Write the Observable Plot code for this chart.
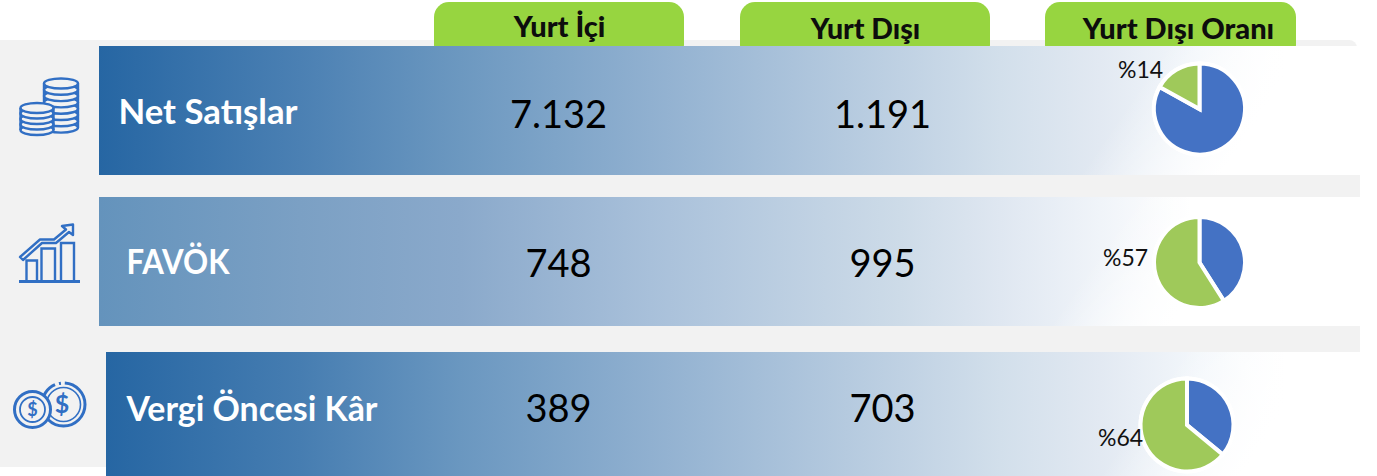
<!DOCTYPE html>
<html><head><meta charset="utf-8">
<script src="https://cdn.jsdelivr.net/npm/d3@7"></script>
<script src="https://cdn.jsdelivr.net/npm/@observablehq/plot@0.6"></script>
<style>html,body{margin:0;padding:0;background:#fff}svg{display:block}</style>
</head><body><div id="chart"></div>
<script>
// data
const categories = ["Net Satışlar", "FAVÖK", "Vergi Öncesi Kâr"];
const headers = ["Yurt İçi", "Yurt Dışı", "Yurt Dışı Oranı"];
const domestic = [7132, 748, 389];
const foreign = [1191, 995, 703];
const ratioLabels = ["%14", "%57", "%64"];
// slice shares as drawn in the picture's pies
const domesticShare = [83, 41, 36];
const foreignShare = [17, 59, 64];
const sliceColors = ["#4472c4", "#9fc95a"];

// layout (pixel positions of the slide)
const W = 1377, H = 476;
const bandBox = [[99, 1360, 46, 175], [99, 1360, 197, 326], [106, 1377, 352, 476]];
const tabBox = [[434, 684], [740, 990], [1045, 1296]];
const headerAt = [[559, 36, 29], [865, 38, 28.5], [1178, 38, 29]];
const nameAt = [[118, 123, 34.5, 179], [126, 273, 34, 103], [126, 420, 33.5, 251]];
const numY = [127, 276, 421];
const pieAt = [[1199.5, 109, 44], [1199.5, 262.5, 44], [1187, 425, 45]];
const ratioAt = [[1117.5, 77], [1102.5, 265], [1097.5, 445]];
const fmt = d3.format(",");
const tr = v => fmt(v).replace(/,/g, ".");

const gradStops = [
  [[99,"#2666a3"],[300,"#4b80b3"],[460,"#6c98c0"],[650,"#90b0d0"],[900,"#bfd1e3"],[1000,"#d2dfeb"],[1100,"#e2e9f2"],[1200,"#f3f7fb"],[1285,"#ffffff"]],
  [[99,"#6493bc"],[300,"#7ba0c4"],[460,"#8aa9cb"],[650,"#a8c0da"],[900,"#cddbe8"],[1000,"#dfe7f1"],[1100,"#f0f4f9"],[1190,"#ffffff"]],
  [[106,"#2666a3"],[300,"#467db1"],[460,"#6a97c0"],[650,"#90b0d0"],[900,"#bfd1e3"],[1000,"#d2dfeb"],[1100,"#e2e9f2"],[1200,"#f3f7fb"],[1285,"#ffffff"]]
];
const fadeLine = [[1080, 175, 1176, 240], [1050, 326, 1133, 382], [1100, 476, 1196, 541]];

const defs = () => {
  const g = d3.create("svg:g");
  const d = g.append("defs");
  gradStops.forEach((st, i) => {
    const lg = d.append("linearGradient").attr("id", "band" + i).attr("gradientUnits", "userSpaceOnUse")
      .attr("x1", 0).attr("x2", W).attr("y1", 0).attr("y2", 0);
    st.forEach(([x, c]) => lg.append("stop").attr("offset", x / W).attr("stop-color", c));
    const [a, b, c2, e] = fadeLine[i];
    const fg = d.append("linearGradient").attr("id", "fade" + i).attr("gradientUnits", "userSpaceOnUse")
      .attr("x1", a).attr("y1", b).attr("x2", c2).attr("y2", e);
    fg.append("stop").attr("offset", 0).attr("stop-color", "#fff").attr("stop-opacity", 0);
    fg.append("stop").attr("offset", 1).attr("stop-color", "#fff").attr("stop-opacity", 1);
  });
  return g.node();
};

const panel = Plot.rect([0], {x1: 0, x2: 1360, y1: 40, y2: 467, fill: "#f2f2f2"});
const panelCut = Plot.rect([0], {x1: 1350, x2: 1377, y1: 38, y2: 46, fill: "#ffffff"});
const panelCorner = Plot.rect([0], {x1: 1320, x2: 1357, y1: 40, y2: 70, fill: "#f2f2f2", rx: 8});

const tabs = Plot.rect(tabBox, {x1: d => d[0], x2: d => d[1], y1: () => 2, y2: () => 60, fill: "#97d540", rx: 15});
const bands = bandBox.map((b, i) => Plot.rect([b], {x1: d => d[0], x2: d => d[1], y1: d => d[2], y2: d => d[3], fill: `url(#band${i})`}));
const fades = bandBox.map((b, i) => Plot.rect([b], {x1: d => d[0], x2: d => d[1], y1: d => d[2], y2: d => d[3], fill: `url(#fade${i})`}));

const pies = (index, {x, y}) => {
  const g = d3.create("svg:g");
  categories.forEach((_, i) => {
    const [cx, cy, r] = pieAt[i];
    const row = g.append("g").attr("transform", `translate(${x(cx)},${y(cy)})`);
    const arcs = d3.pie().sort(null)([domesticShare[i], foreignShare[i]]);
    row.append("circle").attr("r", r + 3.5).attr("fill", "#fff");
    row.selectAll("path").data(arcs).join("path")
      .attr("d", d3.arc().innerRadius(0).outerRadius(r + 1.5))
      .attr("fill", (d, j) => sliceColors[j])
      .attr("stroke", "#fff").attr("stroke-width", 4).attr("stroke-linejoin", "miter");
  });
  return g.node();
};

const icons = () => {
  const c = "#316fc4";
  const g = d3.create("svg:g").attr("fill", "none").attr("stroke", c).attr("stroke-width", 2.4);
  // coin stacks
  const stack = (cx, top, n, rx, step) => {
    for (let k = n - 1; k >= 0; k--) {
      g.append("ellipse").attr("cx", cx).attr("cy", top + k * step).attr("rx", rx).attr("ry", 5).attr("fill", "#f2f2f2");
    }
    g.append("path").attr("d", `M${cx - rx},${top} V${top + (n - 1) * step} M${cx + rx},${top} V${top + (n - 1) * step}`);
  };
  stack(61, 83.5, 8, 17, 6.3);
  stack(37, 108, 5, 16.5, 5.5);
  // growth bars
  g.append("path").attr("d", "M26.5,280 V260.5 H37 V280 M41.5,280 V248.5 H55 V280 M61,280 V243 H74 V280");
  g.append("path").attr("stroke-width", 2.8).attr("d", "M19,281.5 H80");
  g.append("path").attr("stroke-linejoin", "round").attr("d", "M20,257 L40,239.5 H54 L66,229.5 L62,226 L73,224.5 L73,235 L69,232 L56,243 H42 L23,260 Z");
  // dollar coins
  g.append("circle").attr("cx", 63.5).attr("cy", 404.5).attr("r", 21.5).attr("stroke-width", 3).attr("stroke-dasharray", "92 4 2 4 33");
  g.append("circle").attr("cx", 63.5).attr("cy", 404.5).attr("r", 17).attr("stroke-width", 1.6);
  g.append("circle").attr("cx", 32.5).attr("cy", 409.5).attr("r", 18).attr("stroke-width", 3).attr("fill", "#f2f2f2");
  g.append("circle").attr("cx", 32.5).attr("cy", 409.5).attr("r", 12.5).attr("stroke-width", 1.8);
  g.append("text").attr("x", 62).attr("y", 413).attr("text-anchor", "middle").attr("font-family", "Lato").attr("font-weight", 700)
    .attr("font-size", 25).attr("fill", c).attr("stroke", "none").text("$");
  g.append("text").attr("x", 32.5).attr("y", 416).attr("text-anchor", "middle").attr("font-family", "Lato").attr("font-weight", 700)
    .attr("font-size", 18).attr("fill", c).attr("stroke", "none").text("$");
  return g.node();
};

const font = "Lato, sans-serif";
const headerText = headers.map((t, i) => Plot.text([t], {x: headerAt[i][0], y: headerAt[i][1], text: d => d,
  fontFamily: font, fontWeight: 900, fontSize: headerAt[i][2], fill: "#0d0d0d", lineAnchor: "bottom"}));
const nameText = categories.map((t, i) => Plot.text([t], {x: nameAt[i][0], y: nameAt[i][1], text: d => d,
  fontFamily: font, fontWeight: 700, fontSize: nameAt[i][2], fill: "#fff", textAnchor: "start", lineAnchor: "bottom"}));
const numCol = (vals, x) => Plot.text(vals, {x: () => x, y: (d, i) => numY[i], text: d => tr(d),
  fontFamily: font, fontSize: 38, fill: "#000", lineAnchor: "bottom"});
const ratioText = Plot.text(ratioLabels, {x: (d, i) => ratioAt[i][0], y: (d, i) => ratioAt[i][1], text: d => d,
  fontFamily: font, fontSize: 23, fill: "#111", textAnchor: "start", lineAnchor: "bottom"});

const chart = Plot.plot({
  width: W, height: H, margin: 0,
  x: {type: "linear", domain: [0, W], range: [0, W], axis: null},
  y: {type: "linear", domain: [0, H], range: [0, H], axis: null},
  style: {background: "#fff"},
  marks: [defs, panel, panelCut, panelCorner, tabs, ...bands, ...fades, icons, pies, ...headerText, ...nameText,
    numCol(domestic, 558), numCol(foreign, 882), ratioText]
});
document.getElementById("chart").append(chart);
// Calibri-like narrow setting of the row names
chart.querySelectorAll("text").forEach(t => {
  const i = categories.indexOf(t.textContent);
  if (i >= 0) { t.setAttribute("textLength", nameAt[i][3]); t.setAttribute("lengthAdjust", "spacingAndGlyphs"); }
});
</script></body></html>
